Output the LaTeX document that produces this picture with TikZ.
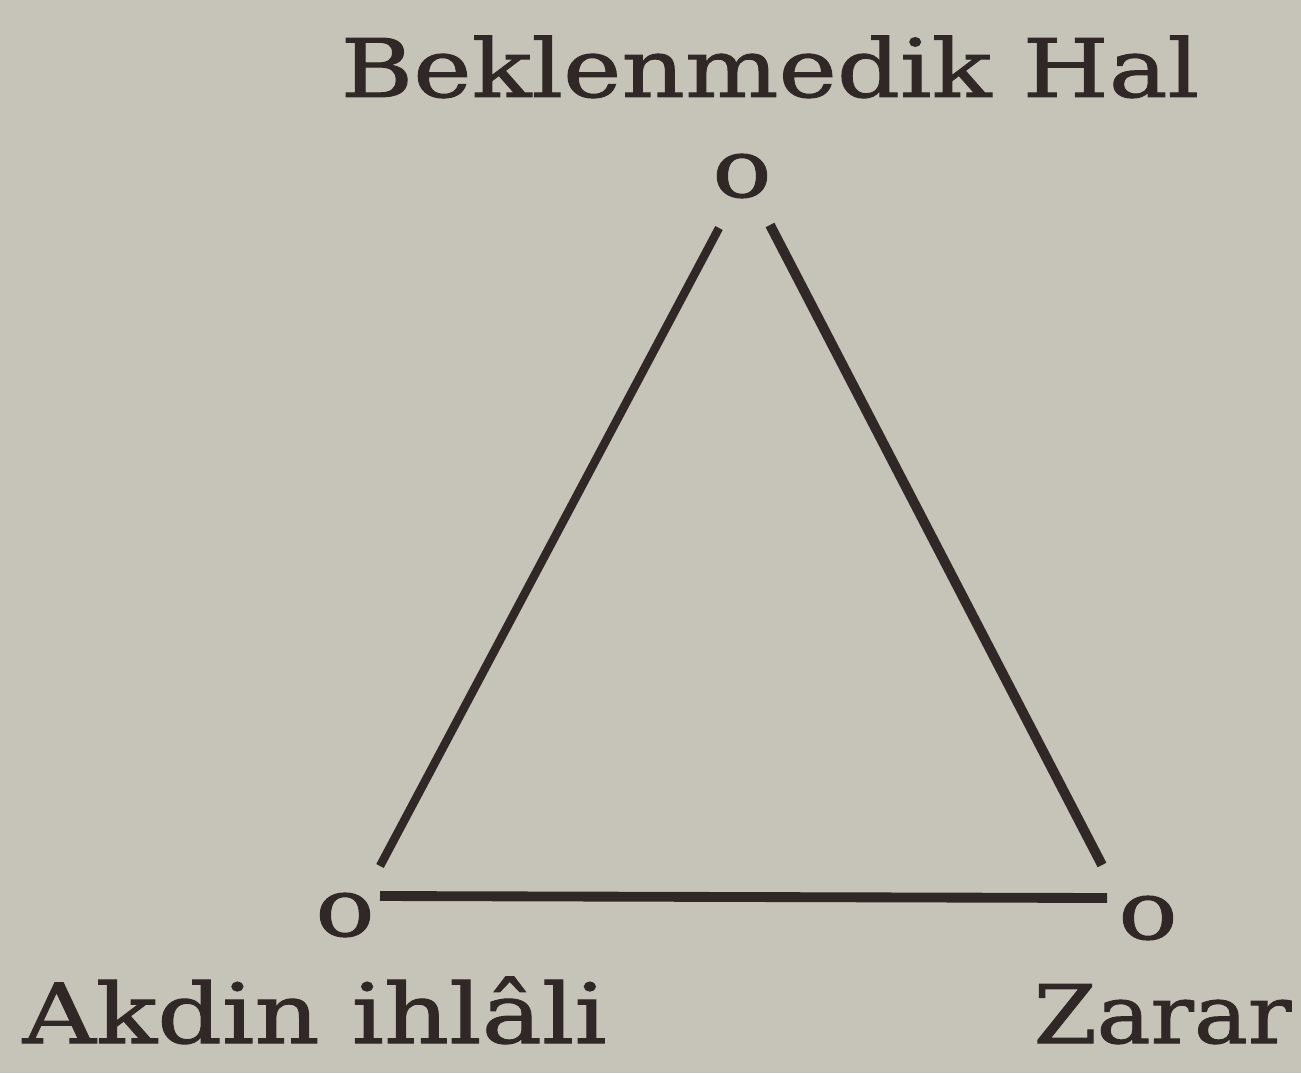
\documentclass[tikz,border=0pt]{standalone}
\usepackage{fontspec}
\setmainfont{DejaVu Serif}
\newfontfamily\labfont[FakeStretch=1.22,FakeBold=1.2]{DejaVu Serif}
\newfontfamily\labfontb[FakeStretch=1.12,FakeBold=1.2]{DejaVu Serif}
\definecolor{paper}{RGB}{198,196,184}
\definecolor{ink}{RGB}{48,40,38}
\begin{document}
\begin{tikzpicture}[x=0.01cm,y=-0.01cm,
  lab/.style={text=ink,inner sep=0pt,font=\labfont\fontsize{23}{27}\selectfont},
  vert/.style={text=ink,inner sep=0pt,font=\labfont\fontsize{23}{27}\selectfont},
  edge/.style={draw=ink,line width=2.8pt,line cap=butt}]
\fill[paper] (0,0) rectangle (1301,1073);
\useasboundingbox (0,0) rectangle (1301,1073);
\node[lab,anchor=base west] (tl) at (340,97) {Beklenmedik Hal};
\node[lab,anchor=base west,font=\labfont\fontsize{23.6}{27}\selectfont] (ll) at (22,1043) {Akdin ihlâli};
\node[lab,anchor=base west,font=\labfontb\fontsize{23}{27}\selectfont] (rl) at (1033,1043) {Zarar};
\node[vert] (t) at (742,176) {o};
\node[vert] (l) at (345,915) {o};
\node[vert] (r) at (1148,918) {o};
\coordinate (a1) at (380,866);
\coordinate (a2) at (719,228);
\coordinate (b1) at (770,225);
\coordinate (b2) at (1102,865);
\coordinate (c1) at (380,896);
\coordinate (c2) at (1107,898);
\draw[edge,line width=2.4pt] (a1) -- (a2);
\draw[edge] (b1) -- (b2);
\draw[edge] (c1) -- (c2);
\end{tikzpicture}
\end{document}
